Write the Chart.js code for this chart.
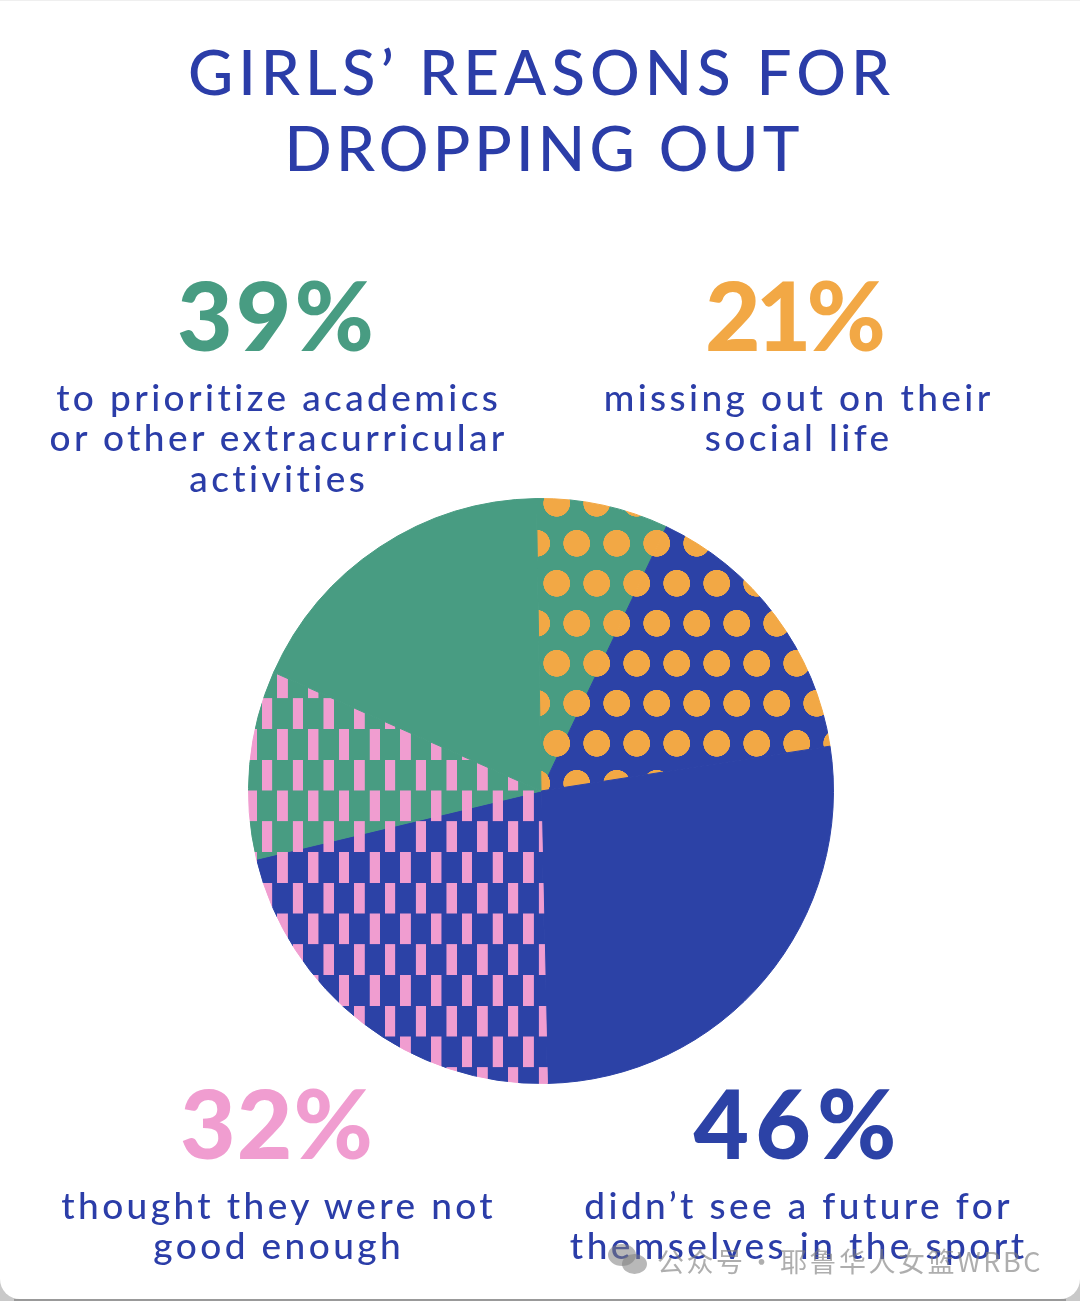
<!DOCTYPE html>
<html><head><meta charset="utf-8">
<script src="https://cdn.jsdelivr.net/npm/chart.js@4"></script>
<style>
html,body{margin:0;padding:0;background:#c9c9c9;width:1080px;height:1301px;overflow:hidden}
#stage{position:relative;width:1080px;height:1301px;overflow:hidden;background:#c9c9c9}
#strip{position:absolute;left:14px;right:14px;top:1299px;height:2px;background:#999}
#card{position:absolute;left:0;top:0;width:1080px;height:1299px;background:#fff;border-radius:0 0 20px 20px;border-top:1px solid #efefef;box-sizing:border-box}
#pie{position:absolute;left:0;top:0;width:1080px;height:1301px}
.t{position:absolute;white-space:nowrap;font-family:Lato,sans-serif;line-height:1.2;transform:translateX(-50%)}
.wm{position:absolute;white-space:nowrap;font-family:"Noto Sans CJK SC",sans-serif;color:rgba(125,125,125,.62);font-size:27px;line-height:1;left:657px;top:1247px;letter-spacing:2.5px;word-spacing:-6px}
.bub{position:absolute;background:rgba(125,125,125,.55);border-radius:50%}
</style></head><body>
<div id="stage"><div id="strip"></div><div id="card"></div><canvas id="pie" width="1080" height="1301"></canvas></div>
<script>
const BLUE='#2C42A6',GREEN='#489C82',PINK='#F09DD0',ORANGE='#F2A845',INK='#2B3DA8';
const titleLines=['GIRLS\u2019 REASONS FOR','DROPPING OUT'];
const percents=['39%','21%','32%','46%'];
const percentColors=[GREEN,ORANGE,PINK,BLUE];
const captions=[
 ['to prioritize academics','or other extracurricular','activities'],
 ['missing out on their','social life'],
 ['thought they were not','good enough'],
 ['didn\u2019t see a future for','themselves in the sport']
];
const sliceLabels=['academics + social','social + future','future','future + not good enough','not good enough + academics','academics'];
const sliceValues=[7.3,15.5,27.1,21.6,10.4,18.1];
const watermark='公众号 · 耶鲁华人女篮WRBC';

const SS=4;
function dotPattern(bg,ctx){
  const P=40,c=document.createElement('canvas');c.width=P*SS;c.height=2*P*SS;
  const g=c.getContext('2d');g.scale(SS,SS);g.fillStyle=bg;g.fillRect(0,0,P,2*P);g.fillStyle=ORANGE;
  [[20,20],[0,60],[40,60]].forEach(([x,y])=>{g.beginPath();g.arc(x,y,13.4,0,Math.PI*2);g.fill();});
  const p=ctx.createPattern(c,'repeat');
  p.setTransform(new DOMMatrix([1/SS,0,0,1/SS,556.7,523.3]));return p;
}
function barPattern(bg,ctx){
  const P=30.8,c=document.createElement('canvas');c.width=Math.round(P*SS);c.height=Math.round(2*P*SS);
  const g=c.getContext('2d');g.scale(SS,SS);g.fillStyle=bg;g.fillRect(0,0,P,2*P);g.fillStyle=PINK;
  g.fillRect(0,0,10.4,P);g.fillRect(P/2,P,10.4,P);
  const p=ctx.createPattern(c,'repeat');
  p.setTransform(new DOMMatrix([1/SS,0,0,1/SS,277.3,729]));return p;
}
const cv=document.getElementById('pie'),ctx=cv.getContext('2d');
const sliceFills=[dotPattern(GREEN,ctx),dotPattern(BLUE,ctx),BLUE,barPattern(BLUE,ctx),barPattern(GREEN,ctx),GREEN];
new Chart(ctx,{type:'pie',
 data:{labels:sliceLabels,datasets:[{data:sliceValues,backgroundColor:sliceFills,borderColor:sliceFills,borderWidth:1,hoverOffset:0}]},
 options:{responsive:false,devicePixelRatio:1,animation:false,rotation:-0.9,
  layout:{padding:{left:248,right:246,top:498,bottom:217}},
  plugins:{legend:{display:false},tooltip:{enabled:false},title:{display:false}}}});

const stage=document.getElementById('stage');
function put(text,cx,base,fs,weight,color,ls){
  const d=document.createElement('div');d.className='t';d.textContent=text;
  d.style.cssText=`left:${cx+ls/2}px;top:${base-0.987*fs}px;font-size:${fs}px;font-weight:${weight};color:${color};letter-spacing:${ls}px`;
  stage.appendChild(d);
}
[[539,95,5],[542,171,4.2]].forEach(([x,b,ls],i)=>put(titleLines[i],x,b,62,500,INK,ls));
const cols=[277,797,277,797],pctCx=[275.5,795.5,276.5,795],pctLs=[3,-5,1,6],pctBase=[351,351,1159,1159],capBase=[[412,452,493],[412,452],[1220,1260],[1220,1260]];
percents.forEach((s,i)=>{
  put(s,pctCx[i],pctBase[i],96,900,percentColors[i],pctLs[i]);
  captions[i].forEach((l,j)=>put(l,cols[i],capBase[i][j],37,500,INK,3.4));
});
const w=document.createElement('div');w.className='wm';w.textContent=watermark;stage.appendChild(w);
[[608,1244,28,22],[622,1254,25,20]].forEach(([x,y,a,b])=>{const e=document.createElement('div');e.className='bub';e.style.cssText=`left:${x}px;top:${y}px;width:${a}px;height:${b}px`;stage.appendChild(e);});
</script></body></html>
